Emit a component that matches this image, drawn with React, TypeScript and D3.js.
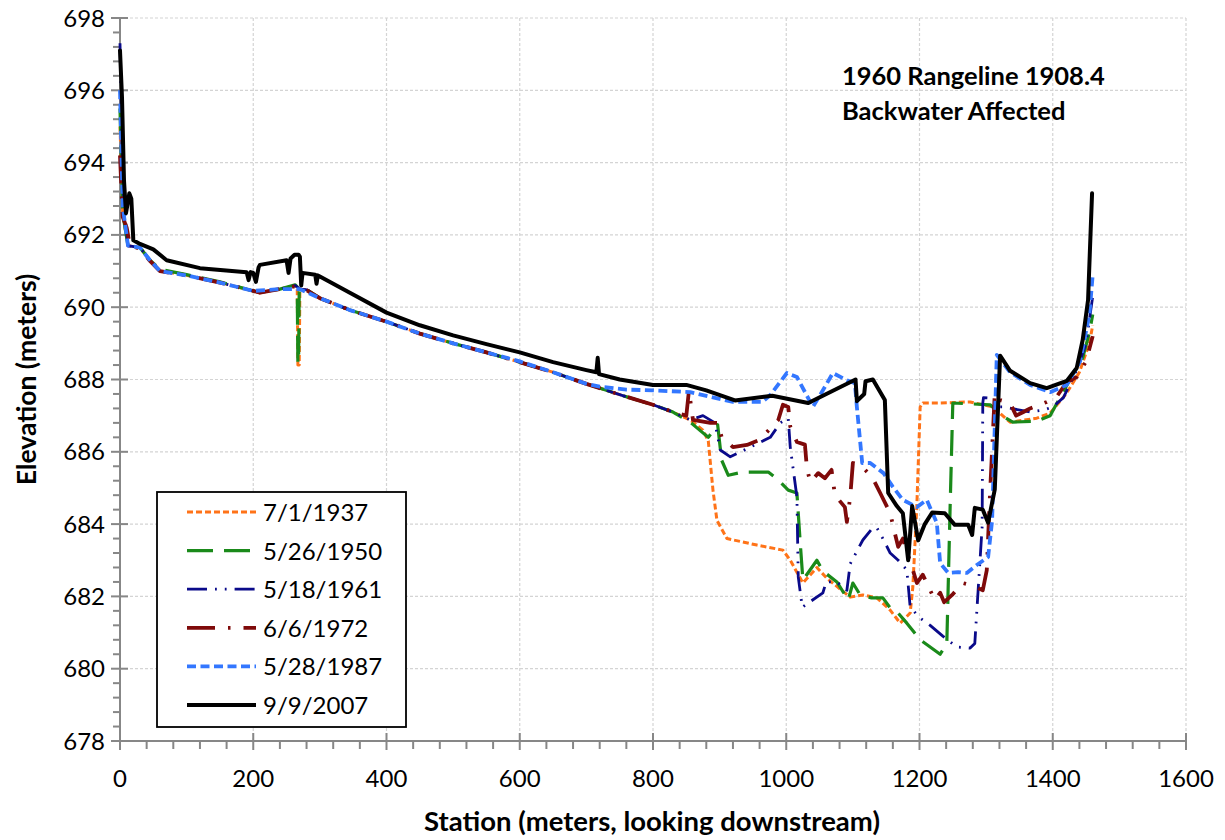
import React from "react";
import * as d3 from "d3";

const seriesNames = ["7/1/1937", "5/26/1950", "5/18/1961", "6/6/1972", "5/28/1987", "9/9/2007"];

const s1937: [number, number][] = [
  [0, 695.0], [4, 692.6], [12, 691.7], [30, 691.65], [45, 691.3], [60, 691.0], [100, 690.88], [150, 690.68],
  [200, 690.45], [210, 690.4], [240, 690.5], [263, 690.6], [266, 690.56], [267, 688.4], [269, 688.4], [270, 690.5],
  [281, 690.48], [300, 690.25], [345, 689.92], [400, 689.6], [450, 689.27], [500, 689.0], [550, 688.75], [600, 688.48],
  [650, 688.2], [700, 687.88], [750, 687.58], [800, 687.3], [830, 687.1], [856, 686.88], [875, 686.6], [883, 686.3],
  [890, 684.94], [896, 684.1], [911, 683.6], [956, 683.42], [995, 683.28], [1006, 683.0], [1025, 682.37], [1046, 682.8],
  [1061, 682.5], [1096, 681.98], [1115, 682.04], [1136, 681.96], [1156, 681.62], [1171, 681.26], [1186, 681.54],
  [1190, 682.26], [1196, 684.5], [1201, 687.24], [1205, 687.35], [1231, 687.35], [1276, 687.38], [1310, 687.24],
  [1336, 686.82], [1376, 686.93], [1396, 687.07], [1420, 687.6], [1440, 688.2], [1455, 689.0], [1460, 689.5],
];

const s1950: [number, number][] = [
  [0, 695.5], [4, 692.6], [12, 691.7], [30, 691.65], [45, 691.3], [60, 691.05], [100, 690.9], [150, 690.7],
  [200, 690.45], [210, 690.42], [240, 690.5], [263, 690.62], [266, 690.56], [267, 688.45], [268, 688.45], [269, 690.5],
  [281, 690.48], [300, 690.25], [345, 689.92], [400, 689.6], [450, 689.27], [500, 689.0], [550, 688.75], [600, 688.48],
  [650, 688.2], [700, 687.88], [750, 687.58], [800, 687.3], [830, 687.1], [856, 686.82], [870, 686.6], [883, 686.4],
  [893, 686.65], [897, 686.75], [903, 685.77], [913, 685.35], [935, 685.44], [973, 685.44], [988, 685.22],
  [1003, 684.94], [1016, 684.86], [1021, 683.48], [1025, 682.45], [1046, 683.0], [1055, 682.7], [1076, 682.4],
  [1093, 681.9], [1100, 682.37], [1111, 682.04], [1128, 681.96], [1145, 681.96], [1156, 681.68], [1165, 681.6],
  [1181, 681.26], [1201, 680.8], [1231, 680.4], [1241, 680.7], [1246, 684.5], [1250, 687.35], [1306, 687.3],
  [1324, 687.0], [1340, 686.82], [1376, 686.85], [1396, 687.0], [1411, 687.5], [1426, 688.0], [1445, 688.6],
  [1455, 689.3], [1460, 689.8],
];

const s1961: [number, number][] = [
  [0, 697.3], [3, 694.5], [6, 692.8], [12, 691.7], [30, 691.65], [45, 691.3], [60, 691.0], [100, 690.88],
  [150, 690.68], [200, 690.45], [210, 690.4], [240, 690.5], [263, 690.6], [270, 690.5], [281, 690.48], [300, 690.25],
  [345, 689.92], [400, 689.6], [450, 689.27], [500, 689.0], [550, 688.75], [600, 688.48], [650, 688.2], [700, 687.88],
  [750, 687.58], [800, 687.3], [830, 687.1], [856, 686.88], [875, 687.0], [893, 686.8], [901, 686.05], [916, 685.86],
  [943, 686.1], [976, 686.4], [991, 686.8], [1003, 686.93], [1006, 686.13], [1016, 684.75], [1018, 682.54],
  [1024, 681.7], [1055, 682.1], [1060, 682.4], [1076, 682.4], [1091, 682.17], [1096, 682.9], [1115, 683.56],
  [1130, 683.9], [1136, 683.9], [1145, 683.6], [1156, 683.2], [1168, 683.0], [1181, 682.73], [1186, 681.7],
  [1201, 681.4], [1216, 681.2], [1235, 680.9], [1256, 680.6], [1276, 680.57], [1283, 680.7], [1288, 682.17],
  [1294, 683.92], [1295, 687.35], [1296, 687.5], [1310, 687.48], [1318, 687.24], [1326, 687.24], [1366, 687.1],
  [1385, 687.15], [1400, 687.24], [1416, 687.5], [1436, 688.26], [1450, 689.0], [1460, 690.3],
];

const s1972: [number, number][] = [
  [0, 694.2], [4, 692.5], [10, 692.2], [15, 691.7], [30, 691.62], [45, 691.28], [60, 691.0], [100, 690.88],
  [150, 690.68], [200, 690.45], [210, 690.4], [240, 690.5], [263, 690.58], [270, 690.5], [281, 690.46], [300, 690.25],
  [345, 689.92], [400, 689.6], [450, 689.27], [500, 689.0], [550, 688.75], [600, 688.48], [650, 688.2], [700, 687.88],
  [750, 687.58], [800, 687.3], [830, 687.1], [850, 687.0], [854, 687.7], [860, 686.88], [886, 686.8], [898, 686.8],
  [903, 686.4], [920, 686.13], [941, 686.19], [960, 686.33], [988, 686.88], [995, 687.3], [1003, 687.24],
  [1006, 686.7], [1016, 686.27], [1028, 686.2], [1031, 685.55], [1036, 685.16], [1048, 685.41], [1058, 685.27],
  [1068, 685.5], [1073, 684.8], [1088, 684.47], [1091, 684.06], [1096, 684.75], [1100, 685.69], [1111, 685.64],
  [1129, 685.3], [1141, 684.86], [1156, 684.3], [1163, 683.75], [1168, 683.37], [1175, 683.6], [1190, 682.73],
  [1196, 682.37], [1205, 682.6], [1216, 682.17], [1223, 681.9], [1231, 682.1], [1237, 681.84], [1249, 682.04],
  [1265, 682.37], [1280, 682.3], [1295, 682.17], [1301, 682.73], [1305, 684.5], [1313, 687.62], [1321, 687.43],
  [1336, 687.35], [1345, 687.0], [1356, 687.1], [1366, 687.2], [1391, 687.38], [1405, 687.5], [1421, 687.93],
  [1436, 688.07], [1450, 688.5], [1460, 689.2],
];

const s1987: [number, number][] = [
  [0, 696.0], [4, 692.8], [12, 691.7], [30, 691.65], [45, 691.3], [60, 691.0], [100, 690.88], [150, 690.68],
  [200, 690.45], [240, 690.5], [270, 690.5], [300, 690.25], [345, 689.92], [400, 689.6], [450, 689.27], [500, 689.0],
  [550, 688.75], [600, 688.5], [650, 688.2], [700, 687.88], [720, 687.8], [760, 687.72], [800, 687.7], [856, 687.65],
  [920, 687.38], [964, 687.38], [976, 687.57], [1001, 688.18], [1016, 688.07], [1040, 687.24], [1055, 687.7],
  [1070, 688.18], [1091, 687.98], [1103, 687.9], [1106, 687.24], [1114, 685.69], [1126, 685.69], [1146, 685.41],
  [1160, 685.03], [1175, 684.67], [1196, 684.47], [1211, 684.67], [1226, 684.03], [1231, 682.92], [1243, 682.65],
  [1258, 682.67], [1271, 682.65], [1286, 682.87], [1303, 683.09], [1309, 684.1], [1316, 688.68], [1336, 688.2],
  [1366, 687.85], [1396, 687.65], [1421, 687.85], [1441, 688.5], [1455, 689.8], [1460, 690.9],
];

const s2007: [number, number][] = [
  [0, 697.1], [3, 695.8], [6, 693.5], [9, 692.6], [14, 693.15], [17, 693.0], [20, 691.85], [30, 691.75], [50, 691.6],
  [70, 691.3], [120, 691.08], [190, 690.97], [193, 690.75], [196, 690.97], [200, 690.95], [204, 690.7], [208, 691.1],
  [210, 691.17], [250, 691.3], [253, 690.95], [256, 691.35], [262, 691.45], [268, 691.45], [270, 691.4],
  [272, 690.6], [274, 690.95], [293, 690.9], [295, 690.65], [297, 690.88], [300, 690.85], [345, 690.4],
  [400, 689.85], [450, 689.5], [500, 689.22], [550, 688.98], [600, 688.75], [650, 688.48], [700, 688.26],
  [715, 688.2], [717, 688.6], [719, 688.15], [750, 688.0], [800, 687.85], [850, 687.85], [880, 687.7], [923, 687.42],
  [979, 687.55], [1033, 687.35], [1104, 688.0], [1106, 687.4], [1117, 687.6], [1119, 687.95], [1130, 688.0],
  [1148, 687.43], [1153, 684.86], [1166, 684.5], [1175, 684.3], [1183, 683.0], [1189, 684.5], [1198, 683.55],
  [1208, 684.0], [1219, 684.32], [1238, 684.3], [1253, 683.98], [1273, 683.98], [1279, 683.7], [1283, 684.45],
  [1295, 684.4], [1303, 684.04], [1313, 684.96], [1321, 688.66], [1336, 688.24], [1366, 687.9], [1391, 687.76],
  [1421, 687.96], [1436, 688.32], [1445, 689.1], [1453, 690.2], [1459, 693.15],
];

const seriesData = [s1937, s1950, s1961, s1972, s1987, s2007];

const xTicks = [0, 200, 400, 600, 800, 1000, 1200, 1400, 1600];
const yTicks = [678, 680, 682, 684, 686, 688, 690, 692, 694, 696, 698];

const titleLines = ["1960 Rangeline 1908.4", "Backwater Affected"];
const xTitle = "Station (meters, looking downstream)";
const yTitle = "Elevation (meters)";

const styles = [
  { color: "#FF7318", width: 3, dash: "6 3" },
  { color: "#1A8A1A", width: 3.2, dash: "26 11" },
  { color: "#0A0A8A", width: 2.8, dash: "20 8 1.8 8 1.8 8" },
  { color: "#7F0A0A", width: 3.8, dash: "28 13 2.5 13" },
  { color: "#3377FF", width: 3.8, dash: "9 4.5" },
  { color: "#000000", width: 4, dash: "" },
];

const FONT = "Lato, 'Liberation Sans', sans-serif";

export default function App() {
  const W = 1225, H = 840;
  const left = 120, right = 1186, top = 18, bottom = 741;
  const x = d3.scaleLinear().domain([0, 1600]).range([left, right]);
  const y = d3.scaleLinear().domain([678, 698]).range([bottom, top]);
  const line = d3.line<[number, number]>().x((d) => x(d[0])).y((d) => y(d[1])).curve(d3.curveLinear);

  const xMinor = d3.range(0, 1601, 40).filter((v) => v % 200 !== 0);
  const yMinor = d3.range(678, 698.01, 0.4).filter((v) => Math.abs(v / 2 - Math.round(v / 2)) > 0.01);

  const legendX = 157, legendY = 492, legendW = 249, legendH = 235;

  return (
    <svg width={W} height={H} style={{ position: "absolute", left: 0, top: 0, background: "#fff" }} fontFamily={FONT}>
      <rect x={0} y={0} width={W} height={H} fill="#fff" />
      {/* grid */}
      {yTicks.filter((t) => t !== 678).map((t) => (
        <line key={"gy" + t} x1={left} x2={right} y1={y(t)} y2={y(t)} stroke="#d4d4d4" strokeWidth={1.2} strokeDasharray="3 2" />
      ))}
      {xTicks.filter((t) => t !== 0).map((t) => (
        <line key={"gx" + t} x1={x(t)} x2={x(t)} y1={top} y2={bottom} stroke="#d4d4d4" strokeWidth={1.2} strokeDasharray="3 2" />
      ))}
      {/* axes */}
      <line x1={left} x2={right} y1={bottom} y2={bottom} stroke="#878787" strokeWidth={2} />
      <line x1={left} x2={left} y1={top} y2={bottom} stroke="#878787" strokeWidth={2} />
      {xTicks.map((t) => (
        <line key={"xt" + t} x1={x(t)} x2={x(t)} y1={bottom - 8} y2={bottom + 9} stroke="#878787" strokeWidth={2} />
      ))}
      {xMinor.map((t) => (
        <line key={"xm" + t} x1={x(t)} x2={x(t)} y1={bottom} y2={bottom + 8} stroke="#878787" strokeWidth={2} />
      ))}
      {yTicks.map((t) => (
        <line key={"yt" + t} x1={left - 9} x2={left + 8} y1={y(t)} y2={y(t)} stroke="#878787" strokeWidth={2} />
      ))}
      {yMinor.map((t) => (
        <line key={"ym" + t.toFixed(1)} x1={left - 7} x2={left} y1={y(t)} y2={y(t)} stroke="#878787" strokeWidth={2} />
      ))}
      {/* tick labels */}
      {xTicks.map((t) => (
        <text key={"xl" + t} x={x(t)} y={bottom + 46} textAnchor="middle" fontSize={24} fill="#000">{t}</text>
      ))}
      {yTicks.map((t) => (
        <text key={"yl" + t} x={left - 15} y={y(t) + 8.5} textAnchor="end" fontSize={24} fill="#000">{t}</text>
      ))}
      {/* axis titles */}
      <text x={(left + right) / 2 - 1} y={831} textAnchor="middle" fontSize={27.5} fontWeight="bold">{xTitle}</text>
      <text transform={`translate(36, ${(top + bottom) / 2}) rotate(-90)`} textAnchor="middle" fontSize={26.5} fontWeight="bold">{yTitle}</text>
      {/* series */}
      <g>
        {seriesData.map((d, i) => (
          <path key={"s" + i} d={line(d) || ""} fill="none" stroke={styles[i].color} strokeWidth={styles[i].width}
            strokeDasharray={styles[i].dash} strokeLinejoin="round" strokeLinecap={i === 5 ? "round" : "butt"} />
        ))}
      </g>
      {/* title */}
      {titleLines.map((t, i) => (
        <text key={"t" + i} x={842} y={85 + i * 35} fontSize={25.5} fontWeight="bold">{t}</text>
      ))}
      {/* legend */}
      <rect x={legendX} y={legendY} width={legendW} height={legendH} fill="#fff" stroke="#000" strokeWidth={1.8} />
      {seriesNames.map((n, i) => {
        const ly = 512 + i * 38.6;
        return (
          <g key={"lg" + i}>
            <line x1={187} x2={256} y1={ly} y2={ly} stroke={styles[i].color} strokeWidth={styles[i].width}
              strokeDasharray={styles[i].dash} />
            <text x={263} y={ly + 9} fontSize={24}>{n}</text>
          </g>
        );
      })}
    </svg>
  );
}
